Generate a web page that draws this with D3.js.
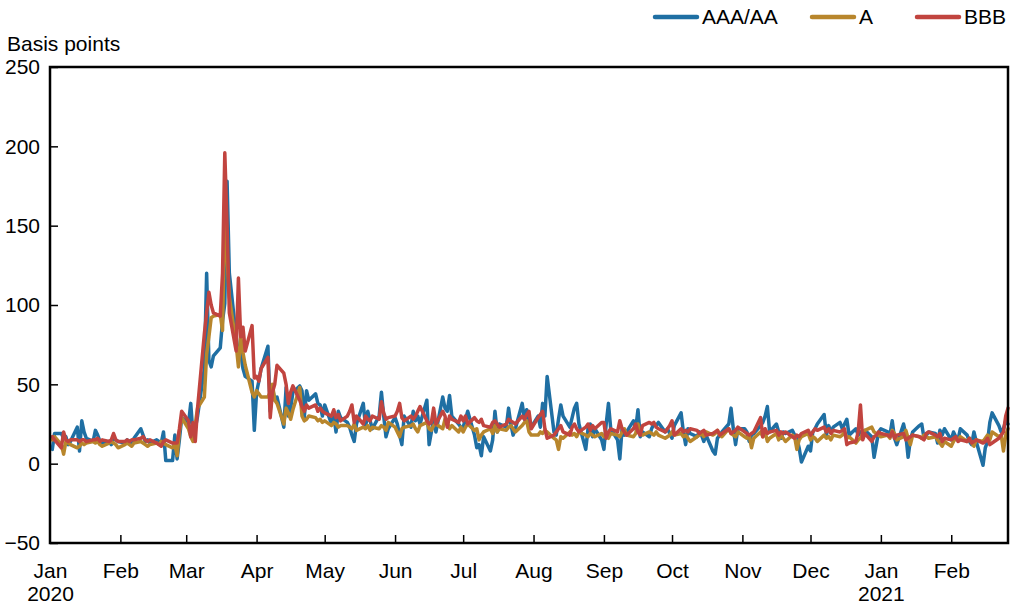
<!DOCTYPE html>
<html>
<head>
<meta charset="utf-8">
<script src="https://cdn.jsdelivr.net/npm/d3@7"></script>
<style>
  html, body { margin: 0; padding: 0; background: #fff; }
  svg text { font-family: "Liberation Sans", Arial, sans-serif; fill: #000; }
</style>
</head>
<body>
<svg id="chart" width="1015" height="605"></svg>
<script>
// ---------- DATA (business days, 2 Jan 2020 – 26 Feb 2021) ----------
const seriesNames = ["AAA/AA", "A", "BBB"];
const yTicks = [-50, 0, 50, 100, 150, 200, 250];
const monthNames = ["Jan","Feb","Mar","Apr","May","Jun","Jul","Aug","Sep","Oct","Nov","Dec"];

const aaa = [
  9,19,19,16,17,12,14,23,8,27,20,16,14,21,18,14,13,14,12,16,15,14,
  13,15,14,12,16,22,18,14,15,13,15,14,13,20,2,2,18,3,15,29,
  25,38,18,22,30,60,120,65,61,68,73,90,101,178,120,80,69,70,60,55,52,21,
  45,52,60,74,33,48,40,42,23,48,30,35,45,49,46,29,46,40,44,38,37,30,
  37,25,30,20,33,29,26,23,18,14,25,38,23,33,27,22,30,45,30,17,22,
  29,25,18,12,30,23,33,27,30,25,40,12,20,29,20,42,35,33,43,30,25,23,
  23,28,33,18,10,12,5,17,8,15,33,20,25,23,35,25,18,22,38,28,34,25,23,
  30,23,38,30,55,20,18,28,37,30,23,29,35,38,25,9,22,25,17,22,15,
  9,25,38,22,15,3,22,18,20,27,22,34,17,20,17,22,25,24,26,20,22,19,
  16,24,32,20,12,22,19,17,20,18,14,18,8,6,16,18,20,25,35,22,12,22,
  22,20,14,18,19,24,26,30,36,20,25,20,16,20,19,21,18,16,10,1,11,
  8,20,22,25,31,18,24,20,23,26,22,25,28,18,22,18,20,19,21,17,4,12,20,
  22,20,18,27,16,12,25,18,4,15,20,24,25,16,18,20,19,13,21,18,22,
  15,20,17,15,22,18,14,12,20,14,-1,10,14,26,32,24,20,22,27,25
];
const singleA = [
  15,17,12,6,14,13,12,10,11,13,12,13,14,13,14,12,11,13,14,13,12,10,
  12,13,12,11,13,14,13,12,11,12,13,12,14,13,12,10,12,5,20,29,
  22,17,14,25,35,42,69,80,92,93,94,84,160,130,105,75,61,80,70,62,45,42,
  46,44,42,42,45,50,40,38,25,35,32,28,34,48,30,27,28,30,29,27,28,26,
  27,24,26,25,23,24,24,23,22,25,21,23,22,24,21,23,22,24,23,21,26,
  23,20,17,22,23,24,25,22,20,24,26,22,21,24,25,22,28,26,22,24,20,23,
  20,23,25,21,22,15,18,20,22,19,24,20,22,21,23,24,22,20,24,26,27,20,18,
  18,20,19,21,20,16,15,9,17,16,20,18,19,17,20,18,17,19,18,17,19,
  17,18,16,19,18,17,20,22,18,17,19,25,19,18,20,19,18,20,18,16,17,18,
  20,18,19,17,18,16,14,17,18,19,17,20,18,19,21,18,17,22,19,18,17,20,
  17,16,18,10,16,20,17,20,14,16,19,15,18,16,14,18,17,9,15,17,19,
  15,17,16,14,18,16,17,15,18,17,18,20,16,17,13,15,16,19,21,23,20,19,18,
  17,18,16,21,19,15,17,21,16,12,18,17,16,18,17,16,17,15,13,11,14,
  11,14,16,15,17,14,16,13,11,15,14,16,18,15,20,17,18,8,18,22
];
const bbb = [
  17,15,10,20,15,14,15,15,14,15,15,14,15,15,16,14,15,14,15,19,15,14,
  14,15,14,15,15,16,17,15,14,15,13,12,11,14,15,13,13,13,22,33,
  27,17,26,14,35,82,95,108,100,95,93,120,196,150,95,71,117,80,86,71,87,54,
  55,52,60,67,29,45,50,62,57,50,38,45,49,40,36,33,37,35,37,33,35,33,
  32,30,34,29,31,27,30,33,37,26,30,25,30,28,27,30,28,39,32,28,29,
  30,33,38,29,27,30,28,30,33,36,27,25,26,35,25,33,30,23,30,28,26,30,
  27,30,25,29,27,26,28,24,23,26,27,25,23,25,28,27,26,25,30,28,31,33,22,
  29,31,33,22,16,18,20,22,24,20,18,23,25,22,20,23,25,21,24,22,26,
  26,16,20,22,20,27,22,20,18,22,25,20,18,24,26,25,26,23,22,20,22,24,
  27,18,22,20,21,20,22,21,19,20,21,18,19,20,21,18,19,22,19,20,21,23,
  20,19,18,19,20,29,17,22,19,20,21,18,20,19,20,17,16,18,17,19,21,
  18,20,22,21,23,20,22,19,21,20,21,22,12,13,14,20,37,15,19,14,17,18,20,
  19,18,17,20,16,18,19,15,16,17,18,17,16,15,19,20,18,17,19,14,16,
  15,16,17,14,15,14,16,13,14,15,13,14,16,12,13,16,18,20,30,35
];
const seriesColors = ["#1f6fa3", "#b8862c", "#c1443f"];

// ---------- LAYOUT ----------
const M = { left: 50, right: 1008, top: 67, bottom: 543 };

const svg = d3.select("#chart");

const dates = d3.timeDay.range(new Date(2020, 0, 2), new Date(2021, 1, 27))
  .filter(d => d.getDay() !== 0 && d.getDay() !== 6);

const x = d3.scaleTime()
  .domain([new Date(2020, 0, 1), new Date(2021, 1, 26)])
  .range([M.left, M.right]);
const y = d3.scaleLinear().domain([-50, 250]).range([M.bottom, M.top]);

// lines
const allSeries = [aaa, singleA, bbb];
const line = d3.line().x(d => x(d.date)).y(d => y(d.v));
const plot = svg.append("g");
allSeries.forEach((vals, i) => {
  const pts = vals.slice(0, dates.length).map((v, j) => ({ date: dates[j], v }));
  plot.append("path")
    .datum(pts)
    .attr("fill", "none")
    .attr("stroke", seriesColors[i])
    .attr("stroke-width", 3.5)
    .attr("stroke-linejoin", "round")
    .attr("stroke-linecap", "round")
    .attr("d", line);
});

// frame
svg.append("rect")
  .attr("x", M.left).attr("y", M.top)
  .attr("width", M.right - M.left).attr("height", M.bottom - M.top)
  .attr("fill", "none").attr("stroke", "#000").attr("stroke-width", 2.5);

// y axis
const yAxis = d3.axisLeft(y).tickValues(yTicks).tickSizeInner(-8).tickSizeOuter(0).tickPadding(10);
const gy = svg.append("g").attr("transform", `translate(${M.left},0)`).call(yAxis);
gy.select(".domain").remove();
gy.selectAll(".tick line").attr("stroke", "#000").attr("stroke-width", 1.5);
gy.selectAll(".tick text").style("font-size", "21px");

// x axis
const monthTicks = d3.timeMonth.range(new Date(2020, 0, 1), new Date(2021, 2, 1));
const xAxis = d3.axisBottom(x).tickValues(monthTicks).tickSizeInner(-8).tickSizeOuter(0).tickFormat(() => "");
const gx = svg.append("g").attr("transform", `translate(0,${M.bottom})`).call(xAxis);
gx.select(".domain").remove();
gx.selectAll(".tick line").attr("stroke", "#000").attr("stroke-width", 1.5);
gx.selectAll(".tick text").each(function(d) {
  const t = d3.select(this).text(null).attr("y", 35).attr("dy", null).style("font-size", "21px");
  t.append("tspan").attr("x", 0).text(monthNames[d.getMonth()]);
  if (d.getMonth() === 0) t.append("tspan").attr("x", 0).attr("dy", 23).text(d.getFullYear());
});
gx.selectAll(".tick line").filter((d, i) => i === 0).remove();

// unit label
svg.append("text").attr("x", 7).attr("y", 51).style("font-size", "21px").text("Basis points");

// legend
const legendX = [655, 812, 917];
seriesNames.forEach((name, i) => {
  const g = svg.append("g");
  g.append("line")
    .attr("x1", legendX[i]).attr("x2", legendX[i] + 42)
    .attr("y1", 17).attr("y2", 17)
    .attr("stroke", seriesColors[i]).attr("stroke-width", 4.5)
    .attr("stroke-linecap", "round");
  g.append("text").attr("x", legendX[i] + 47).attr("y", 24)
    .style("font-size", "21px").text(name);
});
</script>
</body>
</html>
